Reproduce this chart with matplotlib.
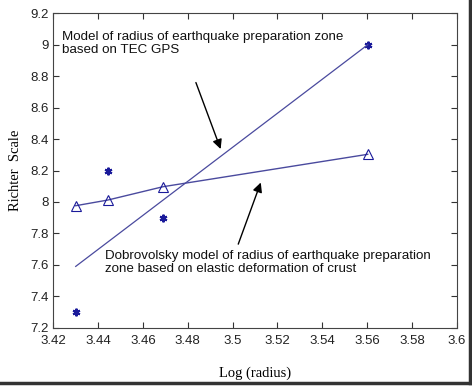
import numpy as np
import matplotlib
matplotlib.use('Agg')
from matplotlib import pyplot as plt
from matplotlib.lines import Line2D

# GPS TEC data points (stars)
tec_x = [3.43, 3.4443, 3.469, 3.5603]
tec_y = [7.3, 8.2, 7.9, 9.0]

# fitted line through the TEC points (end values)
fit_x = [3.43, 3.5603]
fit_y = [7.59, 9.0]

# Dobrovolsky model (triangles)
dob_x = [3.43, 3.4443, 3.469, 3.5603]
dob_y = [7.976, 8.012, 8.097, 8.303]

xticks = [3.42, 3.44, 3.46, 3.48, 3.5, 3.52, 3.54, 3.56, 3.58, 3.6]
yticks = [7.2, 7.4, 7.6, 7.8, 8, 8.2, 8.4, 8.6, 8.8, 9, 9.2]

blue = '#1a1a9a'
line_c = '#4a4a9e'

fig = plt.figure(figsize=(4.72, 3.86), dpi=100)
ax = fig.add_axes([53.3/472, 1-327.7/386, (456.7-53.3)/472, (327.7-13.3)/386])

ax.plot(tec_x, tec_y, linestyle='none', marker=(6, 2, 0), color=blue, markersize=5.5,
        markeredgewidth=1.5)
ax.plot(fit_x, fit_y, color=line_c, linewidth=0.9)
ax.plot(dob_x, dob_y, color=line_c, linewidth=1.0, marker='^', markersize=7,
        markerfacecolor='none', markeredgecolor=blue, markeredgewidth=0.8)

ax.set_xlim(3.42, 3.6)
ax.set_ylim(7.2, 9.2)
ax.set_xticks(xticks)
ax.set_yticks(yticks)
ax.set_xticklabels(['3.42', '3.44', '3.46', '3.48', '3.5', '3.52', '3.54', '3.56', '3.58', '3.6'])
ax.set_yticklabels(['7.2', '7.4', '7.6', '7.8', '8', '8.2', '8.4', '8.6', '8.8', '9', '9.2'])
ax.tick_params(direction='in', length=4, width=0.8, labelsize=9.5, colors='#333333',
               top=True, right=True, pad=3)
ax.tick_params(axis='x', pad=5)
for lab in ax.get_xticklabels() + ax.get_yticklabels():
    lab.set_fontfamily('Liberation Sans')
    lab.set_color('#222222')
for s in ax.spines.values():
    s.set_color('#444444')
    s.set_linewidth(0.8)

ax.set_xlabel('Log (radius)', fontfamily='Liberation Serif', fontsize=10.5, labelpad=14)
ax.set_ylabel('Richter  Scale', fontfamily='Liberation Serif', fontsize=10.5, labelpad=6)

ax.text(3.4239, 9.085, 'Model of radius of earthquake preparation zone\nbased on TEC GPS',
        fontfamily='Liberation Sans', fontsize=9.6, va='top', ha='left', linespacing=1.1,
        color='#111111')
ax.text(3.4431, 7.695, 'Dobrovolsky model of radius of earthquake preparation\nzone based on elastic deformation of crust',
        fontfamily='Liberation Sans', fontsize=9.6, va='top', ha='left', linespacing=1.1,
        color='#111111')

ax.annotate('', xy=(3.4951, 8.32), xytext=(3.4832, 8.776),
            arrowprops=dict(arrowstyle='-|>', color='black', lw=1.0, mutation_scale=14))
ax.annotate('', xy=(3.513, 8.14), xytext=(3.5021, 7.715),
            arrowprops=dict(arrowstyle='-|>', color='black', lw=1.0, mutation_scale=14))

# frame border (screenshot style) on right and bottom
fig.add_artist(Line2D([469.5/472, 469.5/472], [1-383/386, 1], color='#333333', lw=2.5))
fig.add_artist(Line2D([0, 469.5/472], [1-383/386, 1-383/386], color='#333333', lw=2.5))

fig.savefig('out.png', dpi=100)
